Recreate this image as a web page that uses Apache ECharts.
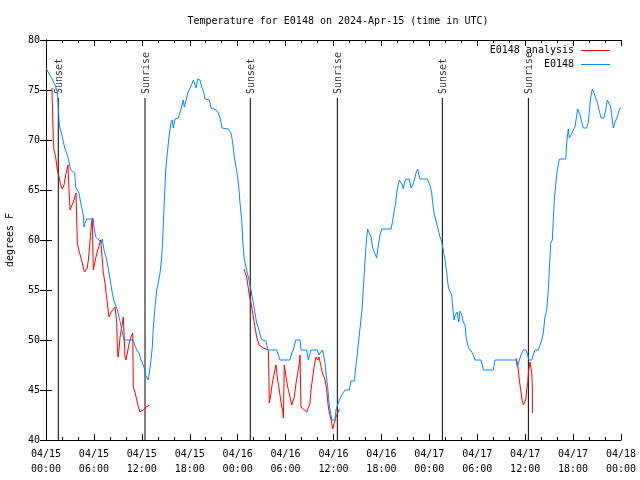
<!DOCTYPE html>
<html>
<head>
<meta charset="utf-8">
<script src="https://cdn.jsdelivr.net/npm/echarts@6/dist/echarts.min.js"></script>
<style>html,body{margin:0;padding:0;background:#fff}#c{width:640px;height:480px}</style>
</head>
<body>
<div id="c"></div>
<script>
// hours since 2024-04-15 00:00 UTC, temperature (deg F)
const obsPoints = [
[0,77.2],[0.33,76.7],[0.71,76.2],[1.13,75.5],[1.42,74.8],[1.54,73.2],[1.67,71.5],[2.04,70.3],[2.34,69.2],[2.75,68.3],
[3.09,67],[3.59,66.7],[3.72,65.3],[4.13,64.7],[4.35,63.7],[4.67,62.5],[4.76,61.3],[4.88,61.7],[5.10,62.1],[5.92,62.1],
[6.01,61.3],[6.22,60.3],[6.64,60],[6.89,59.7],[7.05,60.1],[7.26,59],[7.60,58],[7.89,56.7],[8.10,55.7],[8.30,54.7],
[8.52,53.9],[8.93,53],[9.14,52.3],[9.35,51.6],[9.48,51],[9.77,50],[10.93,50],[11.11,49.5],[11.36,49],[11.65,48.7],
[11.86,48.1],[12.06,48],[12.27,47.3],[12.48,46.5],[12.81,46],[13.11,47.7],[13.31,49.3],[13.44,51.3],[13.65,53.3],[13.86,55],
[14.06,55.7],[14.28,56.7],[14.49,58.3],[14.61,60],[14.78,63.3],[14.99,67],[15.19,68.7],[15.40,70.3],[15.65,71.7],[15.82,72],
[15.94,71.2],[16.15,72.1],[16.57,72.2],[16.78,72.8],[16.99,73.3],[17.19,74],[17.32,73.3],[17.49,73.8],[17.74,74.7],[18.03,75.2],
[18.32,75.7],[18.45,76],[18.66,75.5],[18.78,75.2],[19.00,76.1],[19.28,76],[19.50,75.3],[19.78,74.7],[19.91,74.1],[20.45,74],
[20.66,73.2],[21.29,73],[21.58,72.7],[21.79,72.2],[21.91,71.8],[22.04,71.2],[22.83,71.1],[23.17,70.7],[23.38,69.7],[23.58,68.3],
[23.79,67.3],[24.00,66.3],[24.17,65],[24.29,63.7],[24.51,62],[24.63,60],[24.79,58.3],[25.04,57.3],[25.33,56.3],[25.67,55],
[25.96,53.7],[26.17,52.7],[26.38,51.7],[26.67,51],[26.88,50.3],[27.09,50],[27.55,49.9],[27.76,49],[28.89,49],[29.09,48.5],
[29.30,48],[30.55,48],[30.77,48.7],[30.97,49],[31.27,50],[31.81,50],[31.93,49],[32.65,49],[32.85,48],[33.06,48],
[33.18,49],[33.97,49],[34.18,48.5],[34.40,48.7],[34.60,49],[34.72,48.7],[34.94,47.7],[35.06,46.7],[35.27,45.3],[35.47,43.5],
[35.78,42],[36.19,42],[36.31,43],[36.53,43],[36.73,44],[37.03,44.5],[37.44,45],[37.98,45],[38.19,45.9],[38.61,45.9],
[38.82,47.5],[39.03,49],[39.23,50.5],[39.57,53],[39.95,58],[40.16,60.3],[40.28,61.1],[40.48,61.1],[40.70,60.3],[40.91,59.2],
[41.11,58.8],[41.41,58.2],[41.61,59.5],[41.82,60.5],[42.04,61.1],[43.20,61.1],[43.36,61.7],[43.49,62.3],[43.61,63],[43.79,63.7],
[43.91,64.7],[44.04,65.3],[44.24,66],[44.45,66],[44.62,65.5],[44.74,65.1],[44.87,65.7],[45.08,66.1],[45.49,66.1],[45.71,65.2],
[45.92,65.5],[46.12,66],[46.33,66.7],[46.55,67.1],[46.71,66.4],[46.83,66.1],[47.75,66.1],[47.96,65.7],[48.17,65.2],[48.30,64.7],
[48.42,63.7],[48.59,62.7],[48.75,62.2],[49.00,62],[49.12,61],[49.34,60.3],[49.55,59.8],[49.75,59],[49.96,58],[50.18,56.7],
[50.38,55.3],[50.50,55],[50.80,54.5],[50.93,53.3],[51.09,52],[51.25,52.5],[51.50,52.8],[51.68,51.8],[51.84,52.9],[52.05,52.5],
[52.25,51.8],[52.47,51.5],[52.59,50.3],[52.81,49.5],[53.01,49.1],[53.31,48.8],[53.51,48.5],[53.72,48],[54.47,48],[54.63,47.5],
[54.76,47],[56.01,47],[56.22,48],[58.85,48],[59.02,47.3],[59.27,48],[59.48,48.5],[59.77,49],[60.11,49],[60.32,48.5],
[60.48,48],[60.82,48],[61.02,48.5],[61.23,49],[61.65,49],[61.86,49.5],[62.07,50],[62.27,50.7],[62.48,52.3],[62.70,53],
[62.90,55],[63.02,57],[63.20,59.7],[63.40,60],[63.52,62],[63.65,64],[63.82,65.5],[64.02,67],[64.28,68.1],[65.08,68.1],
[65.20,69.7],[65.40,71.1],[65.53,70.2],[65.74,70.5],[66.03,71],[66.24,71.3],[66.37,72],[66.58,73.1],[66.87,72.5],[67.08,71.8],
[67.28,71.2],[67.71,71.2],[67.91,71.8],[68.03,72.8],[68.21,74.3],[68.41,75.1],[68.62,74.7],[68.83,74.2],[69.03,73.8],[69.25,73],
[69.50,72.2],[69.87,72.2],[70.08,73],[70.29,74],[70.54,74],[70.71,73.3],[70.91,72],[71.04,71.2],[71.25,71.8],[71.54,72.3],
[71.79,73.1],[72.00,73.2]
];

const analysisPoints = [
[0.75,75.2],[0.91,70],[1.00,69],[1.21,68.3],[1.42,67],[1.63,66.3],[1.84,65.5],[2.04,65.1],[2.25,65.5],[2.47,66.5],
[2.75,67.5],[2.88,65],[3.01,63],[3.17,63.3],[3.51,64],[3.76,64.7],[3.84,62.3],[3.92,59.7],[4.17,58.8],[4.35,58.3],
[4.55,57.7],[4.80,56.8],[5.01,56.7],[5.17,57.2],[5.30,58],[5.42,59],[5.60,60.7],[5.72,61.7],[5.80,62.2],[5.92,57],
[6.05,57.5],[6.26,58.3],[6.42,58.8],[6.67,59.5],[6.85,60],[6.98,58.7],[7.18,56.7],[7.39,55.7],[7.51,54.8],[7.68,53.7],
[7.89,52.3],[8.10,52.7],[8.35,53],[8.64,53.3],[8.85,51.8],[8.93,49.3],[9.02,48.3],[9.14,49],[9.27,50.3],[9.48,51.3],
[9.68,52.3],[9.77,50.7],[9.89,48.3],[10.02,48],[10.18,48.7],[10.43,49.7],[10.64,50.3],[10.86,50.7],[10.93,45.3],[11.14,44.8],
[11.36,44],[11.56,43.3],[11.77,42.8],[11.98,42.7],[12.18,43],[12.52,43.3],[12.94,43.5],
[13.0,null],
[24.79,57.1],[25.13,56.3],[25.42,54.7],[25.76,53.3],[25.96,52.3],[26.17,51.3],[26.38,50.3],[26.67,49.5],[26.88,49.3],[27.21,49.2],
[27.55,49.1],[27.84,49],[27.89,47.3],[27.96,43.7],[28.14,44.5],[28.34,45.7],[28.59,46.7],[28.80,47.5],[28.96,46.3],[29.21,45],
[29.51,43.3],[29.64,43],[29.72,42.2],[29.84,47.5],[30.05,46.3],[30.27,45.3],[30.55,44.3],[30.77,43.5],[30.89,43.3],[31.09,44.3],
[31.31,45.7],[31.52,46.7],[31.72,47.7],[31.81,48.5],[31.93,43.3],[32.22,43.1],[32.65,42.8],[32.85,42.7],[33.06,43.7],[33.18,45],
[33.40,46.3],[33.56,47.3],[33.81,48.3],[34.02,48],[34.18,48.3],[34.40,47.5],[34.60,46.7],[34.81,46.3],[34.94,46],[35.15,45],
[35.35,43.3],[35.56,42.5],[35.78,41.7],[35.90,41.1],[36.10,41.7],[36.31,42.3],[36.53,42.7],[36.73,43.1],
[37.0,null],
[58.85,48.2],[59.02,47.7],[59.15,47],[59.27,46],[59.44,45],[59.61,44],[59.77,43.5],[59.90,43.3],[60.07,44],[60.19,45],
[60.32,45.7],[60.44,47],[60.61,47.8],[60.73,48],[60.82,46.7],[60.90,45.3],[60.91,42.7]
];

const sunHours = [1.54, 12.40, 25.58, 36.48, 49.63, 60.40];
const sunLabels = ['Sunset', 'Sunrise', 'Sunset', 'Sunrise', 'Sunset', 'Sunrise'];
const xTickHours = [0, 6, 12, 18, 24, 30, 36, 42, 48, 54, 60, 66, 72];
const yTicks = [40, 45, 50, 55, 60, 65, 70, 75, 80];

const FONT = 'DejaVu Sans Mono';
const sunLineTop = 74.2;

function fmtX(h) {
  const day = 15 + Math.floor(h / 24);
  const hr = h % 24;
  const p = n => (n < 10 ? '0' : '') + n;
  return '04/' + p(day) + '\n' + p(hr) + ':00';
}

const sunSeries = sunHours.map((h, i) => ({
  type: 'line',
  name: 'sun' + i,
  data: [[h, 40], [h, sunLineTop]],
  symbol: 'none',
  silent: true,
  lineStyle: { color: '#000', width: 1 },
  z: 1,
  animation: false
}));

const sunLabelSeries = {
  type: 'scatter',
  name: 'sunlabels',
  data: sunHours.map((h, i) => ({ value: [h, sunLineTop], name: sunLabels[i] })),
  symbolSize: 1,
  itemStyle: { color: 'rgba(0,0,0,0)' },
  silent: true,
  label: {
    show: true,
    formatter: p => p.name,
    position: 'top',
    rotate: 90,
    align: 'left',
    verticalAlign: 'middle',
    distance: 6,
    offset: [-2.5, 1.5],
    color: '#000',
    fontFamily: FONT,
    fontSize: 10
  },
  animation: false
};

const chart = echarts.init(document.getElementById('c'), null, { renderer: 'canvas' });
chart.setOption({
  animation: false,
  backgroundColor: '#fff',
  title: {
    text: 'Temperature for E0148 on 2024-Apr-15 (time in UTC)',
    left: 333, top: 11, textAlign: 'center',
    textStyle: { fontFamily: FONT, fontSize: 10, fontWeight: 'normal', color: '#000' }
  },
  legend: {
    data: ['E0148 analysis', 'E0148'],
    orient: 'vertical',
    right: 30, top: 44,
    align: 'right',
    padding: 0,
    itemGap: 1,
    itemWidth: 29,
    itemHeight: 12,
    icon: 'path://M0,5.5 L29,5.5 L29,6.5 L0,6.5 Z',
    textStyle: { fontFamily: FONT, fontSize: 10, color: '#000', lineHeight: 13, padding: [0, 2, 0, 0] }
  },
  grid: { left: 46, right: 19, top: 40, bottom: 40, containLabel: false, outerBoundsMode: 'none' },
  xAxis: [{
    type: 'value', min: 0, max: 72, interval: 6,
    axisLine: { show: true, lineStyle: { color: '#000', width: 1 } },
    axisTick: { show: true, inside: true, length: 6, lineStyle: { color: '#000' } },
    minorTick: { show: true, splitNumber: 3, length: 3, lineStyle: { color: '#000' } },
    splitLine: { show: false },
    axisLabel: {
      formatter: v => xTickHours.includes(v) ? fmtX(v) : '',
      fontFamily: FONT, fontSize: 10, color: '#000', lineHeight: 15, margin: 7
    }
  }, {
    type: 'value', min: 0, max: 72, interval: 6, position: 'top',
    axisLine: { show: true, lineStyle: { color: '#000', width: 1 } },
    axisTick: { show: true, inside: true, length: 6, lineStyle: { color: '#000' } },
    minorTick: { show: true, splitNumber: 3, length: 3, lineStyle: { color: '#000' } },
    splitLine: { show: false },
    axisLabel: { show: false }
  }],
  yAxis: [{
    type: 'value', min: 40, max: 80, interval: 5,
    name: 'degrees F', nameLocation: 'middle', nameRotate: 90, nameGap: 31,
    nameTextStyle: { fontFamily: FONT, fontSize: 10, color: '#000' },
    axisLine: { show: true, lineStyle: { color: '#000', width: 1 } },
    axisTick: { show: true, inside: true, length: 6, lineStyle: { color: '#000' } },
    splitLine: { show: false },
    axisLabel: {
      formatter: v => yTicks.includes(v) ? String(v) : '',
      fontFamily: FONT, fontSize: 10, color: '#000', margin: 6
    }
  }, {
    type: 'value', min: 40, max: 80, interval: 5, position: 'right',
    axisLine: { show: true, lineStyle: { color: '#000', width: 1 } },
    axisTick: { show: true, inside: true, length: 6, lineStyle: { color: '#000' } },
    splitLine: { show: false },
    axisLabel: { show: false }
  }],
  series: [
    ...sunSeries,
    sunLabelSeries,
    {
      type: 'line', name: 'E0148 analysis', data: analysisPoints,
      symbol: 'none', connectNulls: false,
      lineStyle: { color: '#ff0000', width: 1 }, itemStyle: { color: '#ff0000' }, z: 3
    },
    {
      type: 'line', name: 'E0148', data: obsPoints,
      symbol: 'none',
      lineStyle: { color: '#0a84ff', width: 1 }, itemStyle: { color: '#0a84ff' }, z: 4
    }
  ]
});
</script>
</body>
</html>
